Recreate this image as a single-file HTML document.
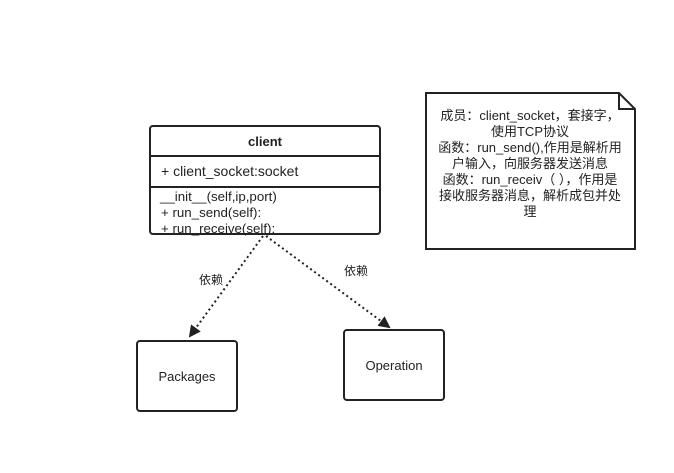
<!DOCTYPE html>
<html><head><meta charset="utf-8"><style>
html,body{margin:0;padding:0;background:#fff;}
svg text{font-family:"Liberation Sans","Noto Sans CJK SC",sans-serif;fill:#222;}
</style></head><body>
<svg width="674" height="468" viewBox="0 0 674 468" xmlns="http://www.w3.org/2000/svg">
<defs>
<marker id="ah" markerWidth="12" markerHeight="12" refX="10" refY="6" orient="auto" markerUnits="userSpaceOnUse">
<path d="M0,0 L12,6 L0,12 Z" fill="#222"/>
</marker>
</defs>
<rect x="150" y="126" width="230" height="108" rx="3" fill="#fff" stroke="#222" stroke-width="2"/>
<line x1="150" y1="156" x2="380" y2="156" stroke="#222" stroke-width="2"/>
<line x1="150" y1="187" x2="380" y2="187" stroke="#222" stroke-width="2"/>
<text x="265" y="146" font-size="13" font-weight="bold" text-anchor="middle">client</text>
<text x="161" y="176" font-size="14">+ client_socket:socket</text>
<text x="160" y="201" font-size="13.3">__init__(self,ip,port)</text>
<text x="161" y="217" font-size="13.3">+ run_send(self):</text>
<text x="161" y="233" font-size="13.3">+ run_receive(self):</text>
<line x1="263" y1="236" x2="190" y2="336" stroke="#222" stroke-width="2" stroke-dasharray="2,3" marker-end="url(#ah)"/>
<line x1="266" y1="236" x2="389" y2="327" stroke="#222" stroke-width="2" stroke-dasharray="2,3" marker-end="url(#ah)"/>
<text x="199" y="284" font-size="12">依赖</text>
<text x="344" y="275" font-size="12">依赖</text>
<rect x="137" y="341" width="100" height="70" rx="3" fill="#fff" stroke="#222" stroke-width="2"/>
<text x="187" y="381" font-size="13" text-anchor="middle">Packages</text>
<rect x="344" y="330" width="100" height="70" rx="3" fill="#fff" stroke="#222" stroke-width="2"/>
<text x="394" y="370" font-size="13" text-anchor="middle">Operation</text>
<path d="M426,93 L619,93 L635,109 L635,249 L426,249 Z" fill="#fff" stroke="#222" stroke-width="2"/>
<path d="M619,93 L619,109 L635,109" fill="none" stroke="#222" stroke-width="2"/>
<g font-size="13" text-anchor="middle">
<text x="530" y="120">成员：client_socket，套接字，</text>
<text x="530" y="136">使用TCP协议</text>
<text x="530" y="152">函数：run_send(),作用是解析用</text>
<text x="530" y="168">户输入，向服务器发送消息</text>
<text x="530" y="184">函数：run_receiv（ ），作用是</text>
<text x="530" y="200">接收服务器消息，解析成包并处</text>
<text x="530" y="216">理</text>
</g>
</svg>
</body></html>
